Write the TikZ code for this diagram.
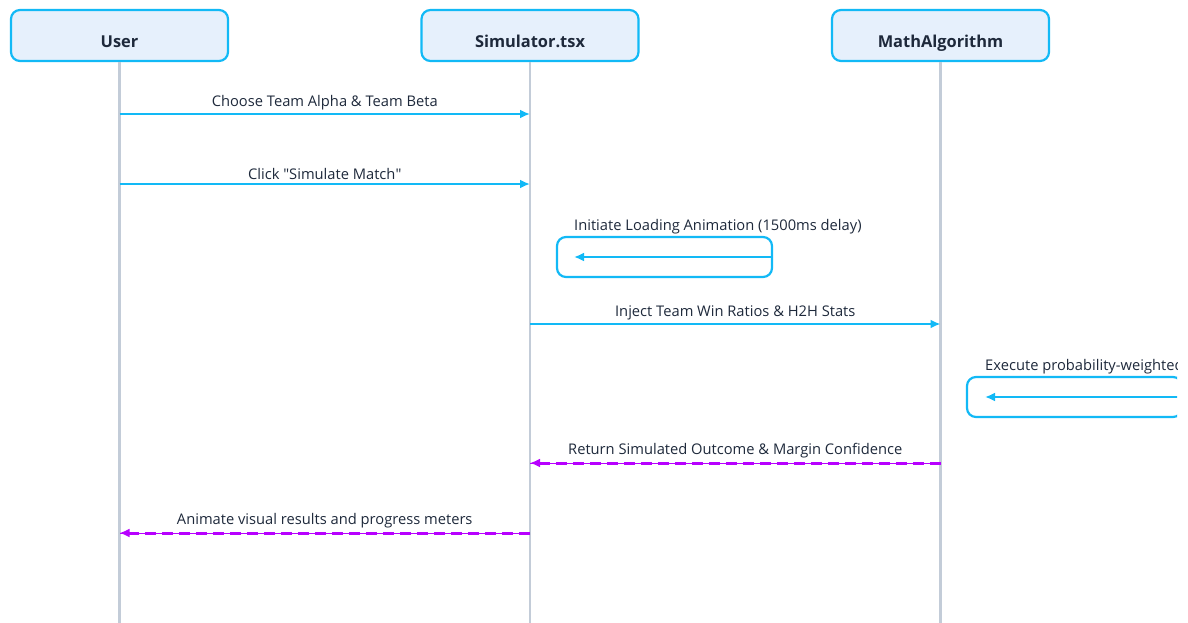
\documentclass[tikz,border=0pt]{standalone}
\usepackage{fontspec}
\setmainfont{Open Sans}
\usetikzlibrary{arrows.meta,positioning,calc}
\definecolor{seqcyan}{HTML}{12B9F6}
\definecolor{seqfill}{HTML}{E6F0FC}
\definecolor{seqline}{HTML}{C3CCD8}
\definecolor{seqviolet}{HTML}{B700FF}
\definecolor{seqtext}{HTML}{1E293B}
\tikzset{
  actor/.style   = {draw=seqcyan, line width=2.2pt, fill=seqfill, rounded corners=9pt,
                    minimum width=217pt, minimum height=51pt, inner sep=2pt,
                    text height=24pt, text depth=0pt, text=seqtext,
                    font=\fontsize{16.4}{19}\selectfont\bfseries},
  life/.style    = {draw=seqline, line width=2.2pt},
  msg/.style     = {-{Latex[length=10pt,width=9pt]}, draw=seqcyan, line width=2.6pt},
  reply/.style   = {-{Latex[length=10pt,width=9pt]}, draw=seqviolet, line width=3pt,
                    dash pattern=on 11pt off 6pt},
  replybase/.style = {draw=seqviolet, line width=1pt},
  loopbox/.style = {draw=seqcyan, line width=2.2pt, rounded corners=9pt},
  lbl/.style     = {font=\fontsize{14.7}{17}\selectfont, text=seqtext, inner sep=3pt},
}

\begin{document}
\begin{tikzpicture}[x=1pt, y=-1pt]
  \useasboundingbox (0,0) rectangle (1188,623);
  \begin{scope}
  \clip (0,0) rectangle (1177,623);
  % participants
  \node[actor] (user) at (119.5,35.5) {User};
  \node[actor, right=191.3pt of user] (sim) {Simulator.tsx};
  \node[actor, right=191.3pt of sim] (math) {MathAlgorithm};
  % lifelines
  \coordinate (userend) at (user.south |- 0,623);
  \coordinate (simend) at (sim.south |- 0,623);
  \coordinate (mathend) at (math.south |- 0,623);
  \draw[life] (user) -- (userend);
  \draw[life] (sim) -- (simend);
  \draw[life] (math) -- (mathend);
  % message points on the lifelines
  \coordinate (u1) at (user.south |- 0,114);
  \coordinate (s1) at (sim.south |- 0,114);
  \coordinate (u2) at (user.south |- 0,184);
  \coordinate (s2) at (sim.south |- 0,184);
  \coordinate (s4) at (sim.south |- 0,324);
  \coordinate (m4) at (math.south |- 0,324);
  \coordinate (m6) at (math.south |- 0,463);
  \coordinate (s6) at (sim.south |- 0,463);
  \coordinate (s7) at (sim.south |- 0,533);
  \coordinate (u7) at (user.south |- 0,533);
  % self calls
  \node[loopbox, minimum width=215pt, minimum height=40pt] (loadloop) at (664.5,257) {};
  \coordinate (loadtip) at (574,257);
  \node[loopbox, minimum width=215pt, minimum height=40pt] (execloop) at (1074.5,397) {};
  \coordinate (exectip) at (985,397);
  % messages
  \draw[msg] (u1) -- (s1) node[midway, above, lbl] {Choose Team Alpha \& Team Beta};
  \draw[msg] (u2) -- (s2) node[midway, above, lbl] {Click \textquotedbl Simulate Match\textquotedbl};
  \draw[msg] (loadloop.east) -- (loadtip);
  \node[lbl, anchor=base west, inner sep=0pt] (loadlbl) at (574,230) {Initiate Loading Animation (1500ms delay)};
  \draw[msg] (s4) -- (m4) node[midway, above, lbl] {Inject Team Win Ratios \& H2H Stats};
  \draw[msg] (execloop.east) -- (exectip);
  \node[lbl, anchor=base west, inner sep=0pt] (execlbl) at (985,370) {Execute probability-weighted};
  \draw[replybase] (m6) -- (s6);
  \draw[reply] (m6) -- (s6) node[midway, above, lbl] {Return Simulated Outcome \& Margin Confidence};
  \draw[replybase] (s7) -- (u7);
  \draw[reply] (s7) -- (u7) node[midway, above, lbl] {Animate visual results and progress meters};
  \end{scope}
\end{tikzpicture}
\end{document}
